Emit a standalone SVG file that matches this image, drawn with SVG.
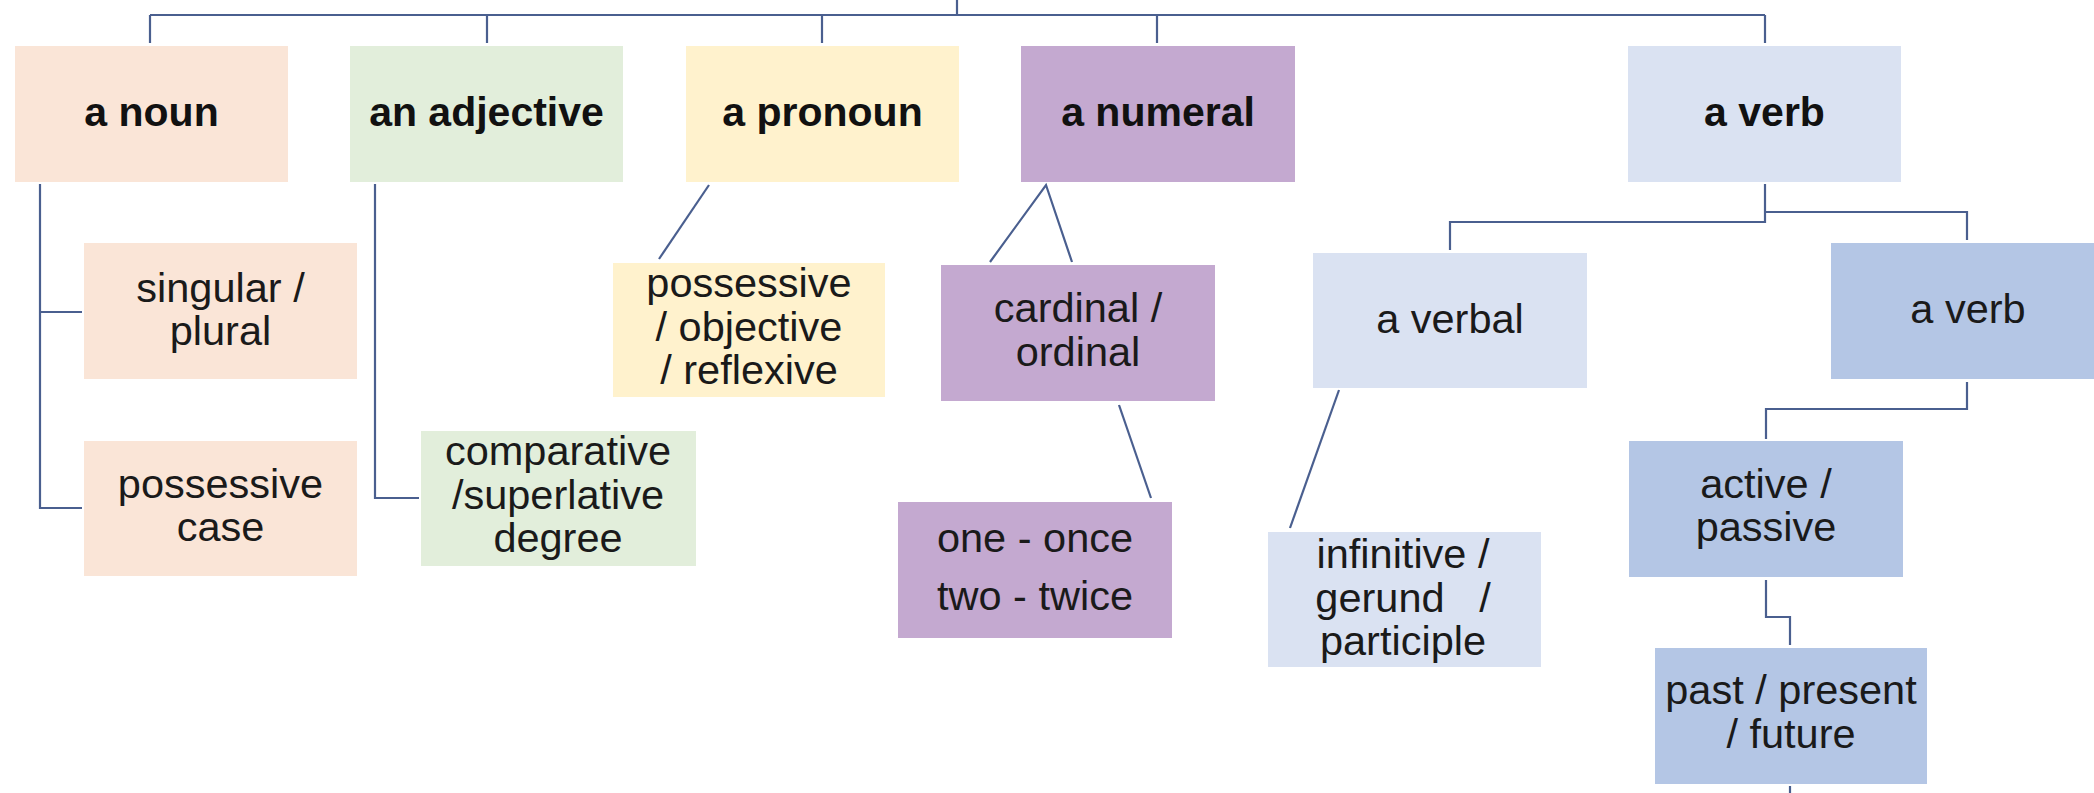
<svg xmlns="http://www.w3.org/2000/svg" width="2094" height="793" viewBox="0 0 2094 793">
<style>
.t{font-family:"Liberation Sans",Arial,sans-serif;font-size:41.5px;fill:#1a1a1a;text-anchor:middle}
.b{font-weight:bold;font-size:41px;fill:#111}
.c{fill:none;stroke:#4a5f8f;stroke-width:2.2}
.peach{fill:#fae5d7}.green{fill:#e2eedb}.yellow{fill:#fff2cd}.purple{fill:#c4a9d0}.lblue{fill:#dae2f2}.dblue{fill:#b4c6e5}
</style>
<rect width="2094" height="793" fill="#ffffff"/>
<g id="connectors" class="c">
<path d="M957,0V15M150,15H1765M150,15V43M487,15V43M822,15V43M1157,15V43M1765,15V43"/>
<path d="M40,184V508H82M40,312H82"/>
<path d="M375,184V498H419"/>
<path d="M709,185L659,259"/>
<path d="M990,262L1046,185L1072,262"/>
<path d="M1119,405L1151,498"/>
<path d="M1765,184V222H1450V250M1765,212H1967V240"/>
<path d="M1339,390L1290,528"/>
<path d="M1967,382V409H1766V439"/>
<path d="M1766,580V617H1790V645"/>
<path d="M1790,786V793"/>
</g>
<g id="noun"><rect class="peach" x="15" y="46" width="273" height="136"/><text class="t b" x="151.5" y="126">a noun</text></g>
<g id="adjective"><rect class="green" x="350" y="46" width="273" height="136"/><text class="t b" x="486.5" y="126">an adjective</text></g>
<g id="pronoun"><rect class="yellow" x="686" y="46" width="273" height="136"/><text class="t b" x="822.5" y="126">a pronoun</text></g>
<g id="numeral"><rect class="purple" x="1021" y="46" width="274" height="136"/><text class="t b" x="1158" y="126">a numeral</text></g>
<g id="verb"><rect class="lblue" x="1628" y="46" width="273" height="136"/><text class="t b" x="1764.5" y="126">a verb</text></g>
<g id="singular"><rect class="peach" x="84" y="243" width="273" height="136"/><text class="t" x="220.5" y="301.5">singular /</text><text class="t" x="220.5" y="344.5">plural</text></g>
<g id="possessive-case"><rect class="peach" x="84" y="441" width="273" height="135"/><text class="t" x="220.5" y="498">possessive</text><text class="t" x="220.5" y="541">case</text></g>
<g id="comparative"><rect class="green" x="421" y="431" width="275" height="135"/><text class="t" x="558" y="465">comparative</text><text class="t" x="558" y="509">/superlative</text><text class="t" x="558" y="552">degree</text></g>
<g id="pronoun-forms"><rect class="yellow" x="613" y="263" width="272" height="134"/><text class="t" x="749" y="297">possessive</text><text class="t" x="749" y="341">/ objective</text><text class="t" x="749" y="384">/ reflexive</text></g>
<g id="cardinal"><rect class="purple" x="941" y="265" width="274" height="136"/><text class="t" x="1078" y="322">cardinal /</text><text class="t" x="1078" y="366">ordinal</text></g>
<g id="once-twice"><rect class="purple" x="898" y="502" width="274" height="136"/><text class="t" x="1035" y="552">one - once</text><text class="t" x="1035" y="610">two - twice</text></g>
<g id="verbal"><rect class="lblue" x="1313" y="253" width="274" height="135"/><text class="t" x="1450" y="333">a verbal</text></g>
<g id="verb2"><rect class="dblue" x="1831" y="243" width="274" height="136"/><text class="t" x="1968" y="323">a verb</text></g>
<g id="infinitive"><rect class="lblue" x="1268" y="532" width="273" height="135"/><text class="t" x="1403" y="568">infinitive /</text><text class="t" x="1403" y="611.5" xml:space="preserve">gerund   /</text><text class="t" x="1403" y="655">participle</text></g>
<g id="voice"><rect class="dblue" x="1629" y="441" width="274" height="136"/><text class="t" x="1766" y="498">active /</text><text class="t" x="1766" y="541">passive</text></g>
<g id="tense"><rect class="dblue" x="1655" y="648" width="272" height="136"/><text class="t" x="1791" y="704">past / present</text><text class="t" x="1791" y="748">/ future</text></g>
</svg>
